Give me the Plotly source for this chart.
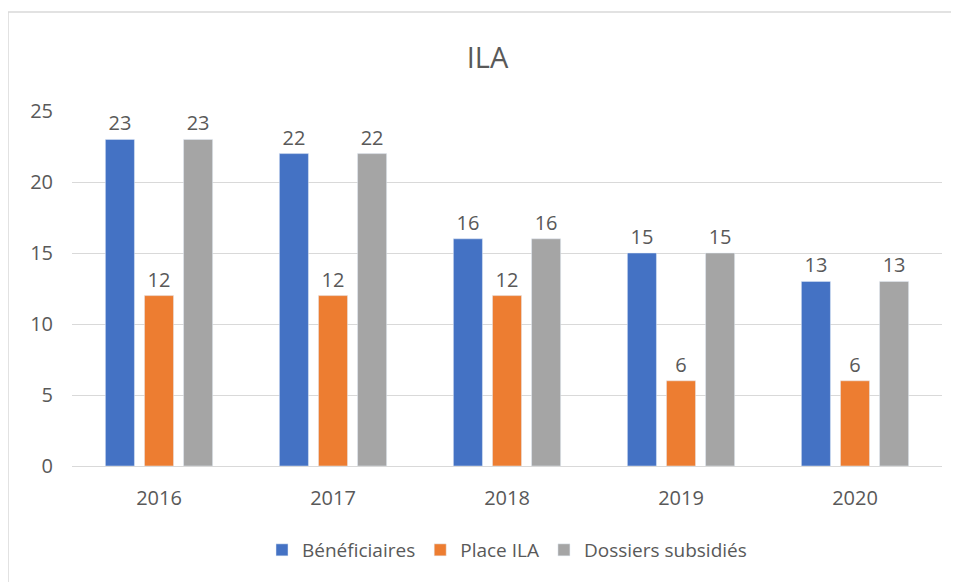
import plotly.graph_objects as go

years = ["2016", "2017", "2018", "2019", "2020"]
beneficiaires = [23, 22, 16, 15, 13]
place_ila = [12, 12, 12, 6, 6]
dossiers = [23, 22, 16, 15, 13]
y_ticks = [0, 5, 10, 15, 20, 25]

FONT = "Open Sans, Noto Sans, sans-serif"
TXT = "#595959"

fig = go.Figure()
for name, vals, col in [
    ("Bénéficiaires", beneficiaires, "#4472C4"),
    ("Place ILA", place_ila, "#ED7D31"),
    ("Dossiers subsidiés", dossiers, "#A5A5A5"),
]:
    fig.add_trace(go.Bar(
        x=years, y=vals, name=name, marker_color=col,
        text=vals, textposition="outside", cliponaxis=False,
        textfont=dict(size=20, color=TXT, family=FONT),
    ))

L, T, PB, PR = 64, 103, 458, 934
fig.update_layout(
    width=959, height=582,
    paper_bgcolor="white", plot_bgcolor="white",
    margin=dict(l=L, r=959 - PR, t=T, b=582 - PB),
    barmode="group", bargap=0.326, bargroupgap=0.256,
    font=dict(family=FONT, color=TXT, size=20),
    title=dict(text="ILA", x=0.5, xanchor="center", y=1 - 50 / 582, yanchor="middle",
               font=dict(size=29, color=TXT, family=FONT)),
    legend=dict(orientation="h", x=0.5, xanchor="center", y=-(542 - PB) / (PB - T), yanchor="middle",
                font=dict(size=19, color=TXT, family=FONT), itemwidth=30,
                traceorder="normal"),
)
fig.update_yaxes(range=[0, 25], tickvals=y_ticks, showgrid=True, gridcolor="#D9D9D9",
                 gridwidth=1.3, zeroline=False, showline=False,
                 tickfont=dict(size=20, color=TXT), ticks="", ticklabelstandoff=18)
fig.update_xaxes(showline=True, linecolor="#D9D9D9", linewidth=1.3, ticks="",
                 tickfont=dict(size=20, color=TXT), ticklabelstandoff=14)
fig.add_shape(type="rect", xref="paper", yref="paper",
              x0=(0 - L) / (PR - L), x1=1.1, y0=-0.5, y1=(PB - 4) / (PB - T),
              line=dict(color="#D9D9D9", width=1.5), fillcolor="rgba(0,0,0,0)", layer="below")

fig.write_html("out.html")
